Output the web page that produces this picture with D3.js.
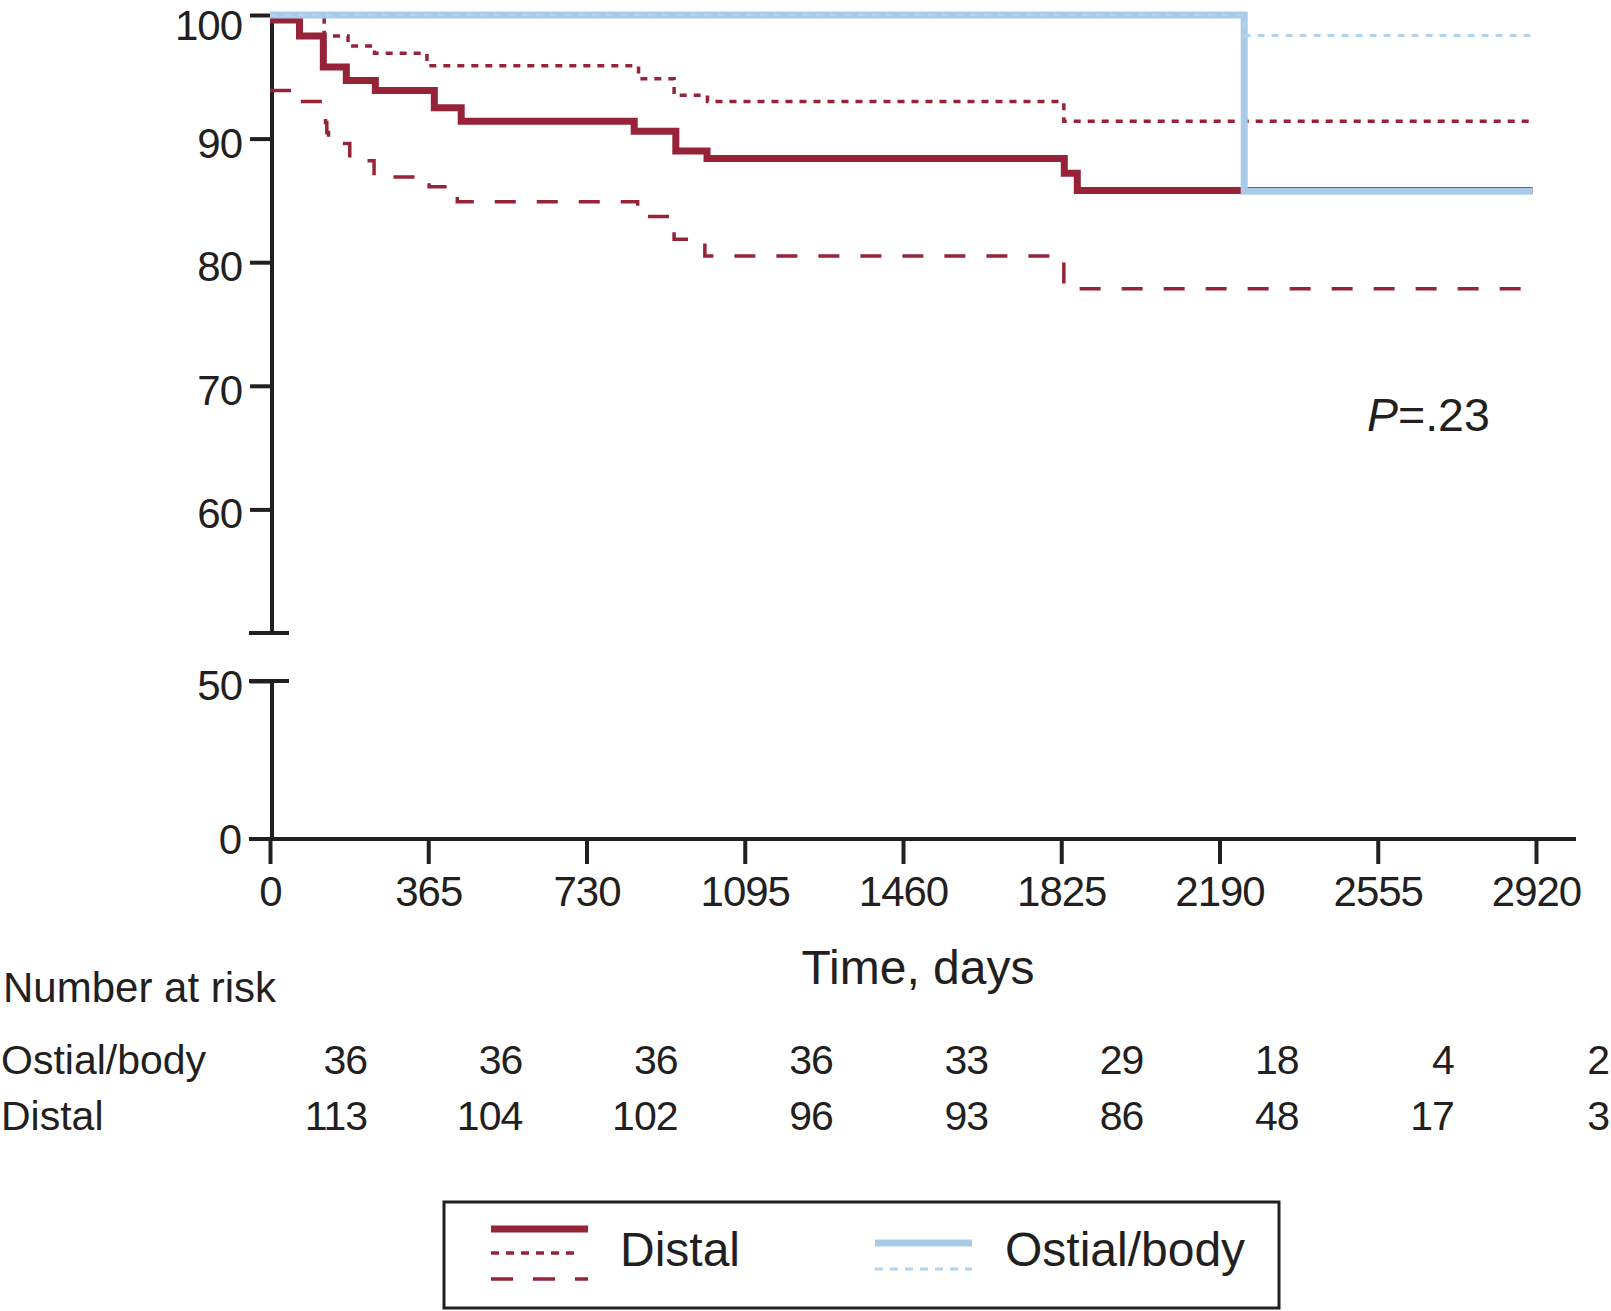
<!DOCTYPE html>
<html>
<head>
<meta charset="utf-8">
<script src="https://cdn.jsdelivr.net/npm/d3@7"></script>
<style>
  body { margin: 0; background: #fff; }
  svg { display: block; }
  text { font-family: "Liberation Sans", Arial, Helvetica, sans-serif; fill: #231f20; }
</style>
</head>
<body>
<div id="chart"></div>
<script>
// Kaplan-Meier steps: [time in days, survival %]
const distal = [
  [0, 99.6], [68, 98.3], [123, 95.8], [176, 94.7], [243, 93.9], [379, 92.5],
  [441, 91.4], [840, 90.6], [936, 89.0], [1008, 88.4], [1832, 87.2], [1862, 85.8], [2912, 85.8]
];
const distalUpper = [
  [0, 100], [125, 98.3], [180, 97.5], [241, 96.9], [362, 95.9], [850, 94.85],
  [932, 93.5], [1009, 93.0], [1831, 91.4], [2912, 91.4]
];
const distalLower = [
  [0, 93.9], [65, 93.0], [128, 91.3], [131, 90.5], [135, 89.6], [184, 88.2],
  [240, 86.9], [367, 86.1], [432, 84.9], [848, 83.7], [932, 81.85], [1003, 80.5],
  [1831, 77.85], [2912, 77.85]
];
const ostial = [[0, 100], [2247, 85.75], [2912, 85.75]];
const ostialUpper = [[0, 100], [2247, 98.35], [2912, 98.35]];

const xTicks = [0, 365, 730, 1095, 1460, 1825, 2190, 2555, 2920];
const yTicksUpper = [60, 70, 80, 90, 100];
const yTicksLower = [0, 50];

const riskTimes = [0, 365, 730, 1095, 1460, 1825, 2190, 2555, 2920];
const riskOstial = [36, 36, 36, 36, 33, 29, 18, 4, 2];
const riskDistal = [113, 104, 102, 96, 93, 86, 48, 17, 3];

const width = 1611, height = 1311;
const red = '#962337', blue = '#aacbe8', ink = '#231f20';

const svg = d3.select('#chart').append('svg')
  .attr('width', width)
  .attr('height', height);

const x = d3.scaleLinear().domain([0, 2920]).range([270, 1536]);
const yUp = d3.scaleLinear().domain([50, 100]).range([633, 15]);
const yLow = d3.scaleLinear().domain([0, 50]).range([839, 681]);
const axisX = 272;

// Y axis, upper part (broken)
const gUp = svg.append('g')
  .attr('transform', `translate(${axisX},0)`)
  .call(d3.axisLeft(yUp).tickValues(yTicksUpper).tickSize(22).tickPadding(8));
const gLow = svg.append('g')
  .attr('transform', `translate(${axisX},0)`)
  .call(d3.axisLeft(yLow).tickValues([50]).tickSize(22).tickPadding(8));

[gUp, gLow].forEach(g => {
  g.select('.domain').remove();
  g.selectAll('line').attr('stroke', ink).attr('stroke-width', 4);
  g.selectAll('text').attr('font-size', 42).attr('letter-spacing', -1)
    .attr('dy', d => d === 100 ? '0.58em' : '0.44em')
    .attr('fill', ink).style('font-family', '"Liberation Sans", Arial, sans-serif');
});

// axis spines and break caps
svg.append('line')
  .attr('x1', axisX).attr('x2', axisX)
  .attr('y1', yUp(100) - 2).attr('y2', yUp(50))
  .attr('stroke', ink).attr('stroke-width', 4);
svg.append('line')
  .attr('x1', axisX).attr('x2', axisX)
  .attr('y1', yLow(50)).attr('y2', yLow(0))
  .attr('stroke', ink).attr('stroke-width', 4);
[yUp(50), yLow(50)].forEach(yy => {
  svg.append('line')
    .attr('x1', axisX - 23).attr('x2', axisX + 17)
    .attr('y1', yy).attr('y2', yy)
    .attr('stroke', ink).attr('stroke-width', 4);
});

// zero label
svg.append('text')
  .attr('x', axisX - 30).attr('y', yLow(0)).attr('dy', '0.36em')
  .attr('text-anchor', 'end').attr('font-size', 42)
  .text('0');

// X axis
const gx = svg.append('g')
  .attr('transform', `translate(0,${yLow(0)})`)
  .call(d3.axisBottom(x).tickValues(xTicks).tickSize(25).tickPadding(12).tickFormat(d3.format('d')));
gx.select('.domain').remove();
gx.selectAll('line').attr('stroke', ink).attr('stroke-width', 4);
gx.selectAll('text').attr('font-size', 42).attr('letter-spacing', -1)
  .attr('fill', ink).style('font-family', '"Liberation Sans", Arial, sans-serif');
svg.append('line')
  .attr('x1', axisX - 23).attr('x2', x(2920) + 40)
  .attr('y1', yLow(0)).attr('y2', yLow(0))
  .attr('stroke', ink).attr('stroke-width', 4);

svg.append('text')
  .attr('x', 918).attr('y', 984)
  .attr('text-anchor', 'middle').attr('font-size', 48)
  .text('Time, days');

// survival curves
const line = d3.line()
  .x(d => x(d[0]))
  .y(d => yUp(d[1]))
  .curve(d3.curveStepAfter);

const curves = [
  { data: distalLower, color: red, w: 3.5, dash: '21 21' },
  { data: distalUpper, color: red, w: 3.5, dash: '7 7' },
  { data: distal, color: red, w: 7, dash: null },
  { data: ostial, color: blue, w: 7, dash: null },
  { data: ostialUpper, color: '#b3d2ec', w: 3, dash: '7 7' }
];

svg.append('g').selectAll('path')
  .data(curves)
  .join('path')
  .attr('d', d => line(d.data))
  .attr('fill', 'none')
  .attr('stroke', d => d.color)
  .attr('stroke-width', d => d.w)
  .attr('stroke-dasharray', d => d.dash)
  .attr('stroke-linejoin', 'miter');

// P value
const pText = svg.append('text')
  .attr('x', 1367).attr('y', 431)
  .attr('font-size', 46.5);
pText.append('tspan').attr('font-style', 'italic').text('P');
pText.append('tspan').text('=.23');

// Number at risk table
const riskX = d3.scaleLinear().domain([0, 2920]).range([367, 1609]);
svg.append('text').attr('x', 3).attr('y', 1002).attr('font-size', 42).text('Number at risk');
svg.append('text').attr('x', 1).attr('y', 1074).attr('font-size', 41).text('Ostial/body');
svg.append('text').attr('x', 1).attr('y', 1130).attr('font-size', 41).text('Distal');

[[riskOstial, 1074], [riskDistal, 1130]].forEach(([vals, yy]) => {
  svg.append('g').selectAll('text')
    .data(vals)
    .join('text')
    .attr('x', (d, i) => riskX(riskTimes[i]))
    .attr('y', yy)
    .attr('text-anchor', 'end')
    .attr('font-size', 41)
    .attr('letter-spacing', -1)
    .text(d => d);
});

// Legend
const lg = svg.append('g');
lg.append('rect')
  .attr('x', 444).attr('y', 1202).attr('width', 835).attr('height', 106)
  .attr('fill', 'none').attr('stroke', ink).attr('stroke-width', 3);

const legendLines = [
  { x1: 491, x2: 588, y: 1229, color: red, w: 7, dash: null },
  { x1: 491, x2: 580, y: 1253, color: red, w: 3.5, dash: '8 7' },
  { x1: 491, x2: 588, y: 1279, color: red, w: 3.5, dash: '22 20' },
  { x1: 875, x2: 972, y: 1243, color: blue, w: 7, dash: null },
  { x1: 875, x2: 972, y: 1269, color: '#b3d2ec', w: 3, dash: '8 7' }
];
lg.selectAll('line')
  .data(legendLines)
  .join('line')
  .attr('x1', d => d.x1).attr('x2', d => d.x2)
  .attr('y1', d => d.y).attr('y2', d => d.y)
  .attr('stroke', d => d.color)
  .attr('stroke-width', d => d.w)
  .attr('stroke-dasharray', d => d.dash);

lg.append('text').attr('x', 620).attr('y', 1266).attr('font-size', 48).text('Distal');
lg.append('text').attr('x', 1005).attr('y', 1266).attr('font-size', 48).text('Ostial/body');
</script>
</body>
</html>
